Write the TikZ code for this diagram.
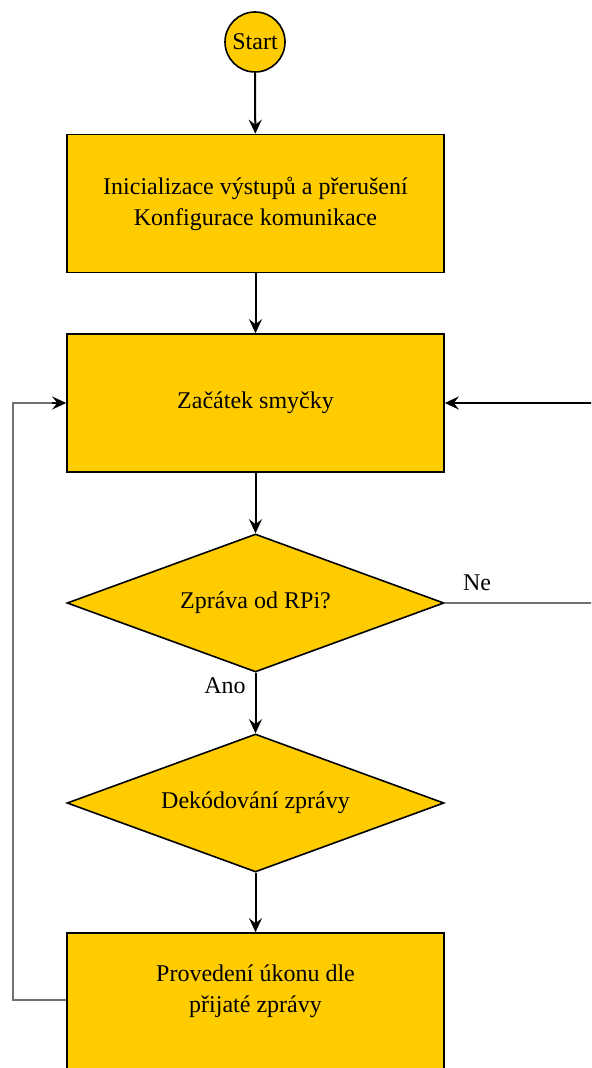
\documentclass[tikz,border=0pt]{standalone}
\usepackage{fontspec}
\setmainfont{Liberation Serif}
\usepackage{tikz}
\usetikzlibrary{arrows.meta, calc, positioning, shapes.geometric}
\definecolor{fyellow}{HTML}{FFCC00}
\definecolor{loopgray}{HTML}{707070}
\tikzset{
  flowstart/.style  = {circle, draw=black, fill=fyellow, line width=0.8pt,
                       minimum size=30pt, inner sep=0pt, font=\fontsize{12}{14}\selectfont},
  flowbox/.style    = {rectangle, draw=black, fill=fyellow, line width=0.8pt,
                       minimum width=188.5pt, minimum height=69pt, inner sep=0pt,
                       align=center, font=\fontsize{12}{15.5}\selectfont},
  flowask/.style    = {diamond, draw=black, fill=fyellow, line width=0.8pt,
                       shape aspect=3, minimum width=188.5pt, minimum height=69pt,
                       inner sep=0pt, align=center, font=\fontsize{12}{15.5}\selectfont},
  flowtext/.style   = {align=center, inner sep=0pt, font=\fontsize{12}{15.5}\selectfont},
  flowarrow/.style  = {draw=black, line width=1pt,
                       -{Stealth[length=7pt, width=6.5pt, inset=2.5pt]}},
  flowloop/.style   = {draw=loopgray, line width=1.1pt},
  flowlabel/.style  = {font=\fontsize{12}{14}\selectfont, inner sep=0pt},
}

\begin{document}
\begin{tikzpicture}[x=0.5pt, y=-0.5pt]
  \clip (0,0) rectangle (591,1068);
  \node[flowstart] (start) at (255,42) {Start};
  \node[flowbox] (init) at (255.5,203.5)
    {Inicializace výstupů a přerušení\\Konfigurace komunikace};
  \node[flowbox] (loop) at (255.5,403) {Začátek smyčky};
  \node[flowask] (msg) at (255.5,603) {Zpráva od RPi?};
  \node[flowask] (decode) at (255.5,803) {Dekódování zprávy};
  \node[flowbox, minimum height=140pt] (act) at (255.5,1073) {};
  \node[flowtext] (acttext) at (255.5,991) {Provedení úkonu dle\\přijaté zprávy};
  \coordinate (leftbend) at (13,1000);
  \coordinate (leftup) at (13,403);
  \coordinate (neout) at (600,603);
  \coordinate (nein) at (600,403);
  \draw[flowarrow] (start) -- (init);
  \draw[flowarrow] (init) -- (loop);
  \draw[flowarrow] (loop) -- (msg);
  \draw[flowarrow] (msg) -- (decode);
  \draw[flowarrow] (decode) -- (act.north);
  \draw[flowloop] (act.west |- leftbend) -- (leftbend) -- (leftup)
    -- ($(loop.west)+(-12,0)$);
  \draw[flowarrow] ($(loop.west)+(-14,0)$) -- (loop.west);
  \draw[flowloop] (msg.east) -- (msg.east -| neout);
  \draw[flowarrow] (nein) -- (loop.east);
  \node[flowlabel] (nelab) at (477,583) {Ne};
  \node[flowlabel] (anolab) at (225,686) {Ano};
\end{tikzpicture}
\end{document}
